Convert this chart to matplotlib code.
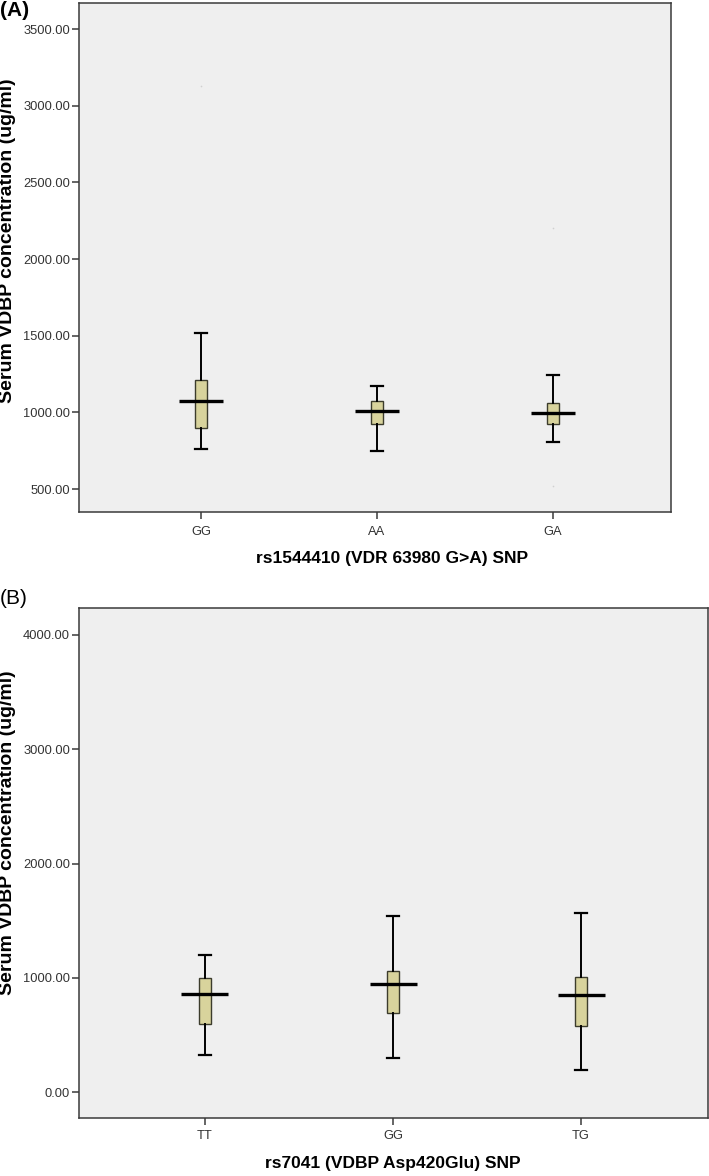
import matplotlib
matplotlib.use("Agg")
import matplotlib.pyplot as plt

plt.rcParams['font.family'] = ['Liberation Sans', 'DejaVu Sans']

# ---------------- data ----------------
cats_a = ["GG", "AA", "GA"]
whislo_a = [758, 748, 805]
q1_a = [896, 926, 926]
med_a = [1076, 1009, 998]
q3_a = [1213, 1072, 1061]
whishi_a = [1515, 1170, 1242]
out_a = [[3130], [], [2205, 520]]

cats_b = ["TT", "GG", "TG"]
whislo_b = [325, 299, 197]
q1_b = [598, 697, 578]
med_b = [862, 946, 853]
q3_b = [998, 1059, 1010]
whishi_b = [1199, 1541, 1567]
out_b = [[], [], []]

yticks_a = [500, 1000, 1500, 2000, 2500, 3000, 3500]
yticks_b = [0, 1000, 2000, 3000, 4000]

xlabel_a = "rs1544410 (VDR 63980 G>A) SNP"
xlabel_b = "rs7041 (VDBP Asp420Glu) SNP"
ylabel = "Serum VDBP concentration (ug/ml)"

BOX_FACE = "#d8d39c"
BOX_EDGE = "#3c3c2c"
FRAME = "#3a3a3a"
BG = "#efefef"

fig = plt.figure(figsize=(7.09, 11.76), dpi=100)

def panel(rect, cats, wlo, q1, med, q3, whi, outs, yticks, ylim, xlim,
          xlabel, ylab_y, ylab_x, xlab_x, xlab_y, xpad):
    ax = fig.add_axes(rect)
    ax.set_facecolor(BG)
    pos = list(range(len(cats)))
    stats = []
    for i in pos:
        stats.append(dict(whislo=wlo[i], q1=q1[i], med=med[i], q3=q3[i],
                          whishi=whi[i], fliers=[]))
    bw = 0.065
    ax.bxp(stats, positions=pos, widths=bw, capwidths=bw, patch_artist=True,
           showfliers=False,
           boxprops=dict(facecolor=BOX_FACE, edgecolor=BOX_EDGE, linewidth=1.0),
           whiskerprops=dict(color="black", linewidth=1.4),
           capprops=dict(color="black", linewidth=1.6),
           medianprops=dict(linewidth=0))
    ax.hlines(med, [p - 0.125 for p in pos], [p + 0.125 for p in pos],
              colors="black", linewidth=2.4, zorder=5)
    for i in pos:
        if outs[i]:
            ax.plot([i] * len(outs[i]), outs[i], linestyle="none", marker="o",
                    markersize=1.2, color="#d0d0d0", markeredgewidth=0)
    ax.set_xlim(*xlim)
    ax.set_ylim(*ylim)
    ax.set_yticks(yticks)
    ax.set_yticklabels([f"{v:.2f}" for v in yticks])
    ax.set_xticks(pos)
    ax.set_xticklabels(cats)
    for s in ["top", "right", "bottom", "left"]:
        ax.spines[s].set_color(FRAME)
        ax.spines[s].set_linewidth(1.1)
    ax.tick_params(axis="y", direction="out", length=5, width=1.1,
                   color=FRAME, labelsize=9.3, labelcolor="#333333", pad=1.5)
    ax.tick_params(axis="x", direction="out", length=5, width=1.1,
                   color=FRAME, labelsize=9.3, labelcolor="#333333", pad=xpad)
    ax.set_ylabel(ylabel, fontsize=14, fontweight="bold")
    ax.yaxis.set_label_coords(ylab_x, ylab_y)
    ax.text(xlab_x, xlab_y, xlabel, transform=ax.transAxes, ha="center",
            va="center", fontsize=12.5, fontweight="bold")
    return ax

# Panel A
panel([79 / 709, 1 - 511.7 / 1176, 592 / 709, 508.7 / 1176],
      cats_a, whislo_a, q1_a, med_a, q3_a, whishi_a, out_a,
      yticks_a, (352, 3670), (-0.693, 2.67), xlabel_a,
      (511.7 - 240.5) / 508.7, -0.1056, (392.5 - 79) / 592,
      -(559 - 511.7) / 508.7, 5.0)

# Panel B
panel([79 / 709, 1 - 1117.7 / 1176, 629 / 709, 509.4 / 1176],
      cats_b, whislo_b, q1_b, med_b, q3_b, whishi_b, out_b,
      yticks_b, (-222, 4233), (-0.67, 2.675), xlabel_b,
      (1117.7 - 833) / 509.4, -0.0994, (392.5 - 79) / 629,
      -(1163.5 - 1117.7) / 509.4, 3.6)

fig.text(0.0, 1 - 10 / 1176, "(A)", fontsize=15, fontweight="bold",
         ha="left", va="center")
fig.text(0.0, 1 - 598 / 1176, "(B)", fontsize=15, ha="left", va="center")

fig.savefig("out.png", dpi=100)
